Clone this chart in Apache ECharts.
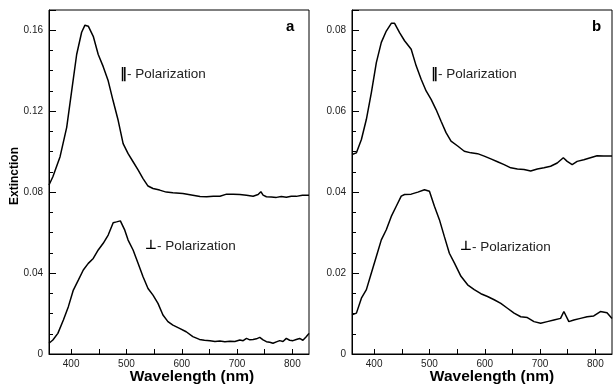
<!DOCTYPE html>
<html><head><meta charset="utf-8">
<script src="https://cdn.jsdelivr.net/npm/echarts@6/dist/echarts.min.js"></script>
<style>html,body{margin:0;padding:0;background:#fff}#c{width:613px;height:384px}</style>
</head><body><div id="c"></div>
<script>
// Panel a, parallel polarization
const wlAPar = [360,367,380,392,401,410,419,425,431,440,449,458,467,476,485,494,503,512,521,530,539,548,560,572,584,602,620,633,645,657,669,681,693,705,717,729,738,743,747,753,762,771,780,789,798,807,818,830];
const extAPar = [0.0835,0.0876,0.0975,0.112,0.130,0.148,0.159,0.1625,0.162,0.157,0.148,0.142,0.135,0.125,0.1155,0.104,0.099,0.095,0.091,0.0867,0.083,0.0818,0.081,0.080,0.0797,0.0793,0.0785,0.0778,0.0777,0.0779,0.078,0.079,0.079,0.0788,0.0785,0.078,0.0788,0.0802,0.0785,0.0777,0.0776,0.0774,0.0778,0.0775,0.078,0.0779,0.0784,0.0785];
// Panel a, perpendicular polarization
const wlAPerp = [360,367,376,386,395,404,413,422,431,440,449,458,467,476,482,489,497,503,512,521,530,539,548,557,566,575,584,596,608,620,632,641,651,660,669,678,687,696,705,711,717,723,729,735,741,747,753,759,765,771,777,783,789,795,801,807,813,819,825,830];
const extAPerp = [0.0053,0.0069,0.0102,0.0168,0.0234,0.0316,0.0365,0.0415,0.0448,0.0472,0.0514,0.0547,0.0588,0.0649,0.0653,0.0658,0.0612,0.0563,0.0514,0.0448,0.0382,0.0324,0.0291,0.025,0.0193,0.016,0.0143,0.0127,0.011,0.0086,0.0072,0.0068,0.0066,0.0062,0.0064,0.0061,0.0063,0.0062,0.0069,0.0066,0.0077,0.007,0.0072,0.0075,0.0082,0.007,0.0061,0.0058,0.0053,0.006,0.0066,0.0062,0.0077,0.0068,0.0066,0.0072,0.0077,0.0068,0.0085,0.0102];
// Panel b, parallel polarization
const wlBPar = [360,368,377,386,395,404,413,422,431,437,446,455,467,476,485,494,503,512,521,530,539,551,563,575,587,599,611,623,635,647,659,671,683,695,707,719,731,742,749,758,767,779,791,803,815,830];
const extBPar = [0.0493,0.0497,0.053,0.058,0.0646,0.072,0.077,0.0798,0.0817,0.0817,0.0794,0.0774,0.0753,0.0712,0.0679,0.065,0.0629,0.0604,0.0575,0.0547,0.0526,0.0514,0.0501,0.0497,0.0495,0.0489,0.0482,0.0475,0.0468,0.046,0.0457,0.0456,0.0452,0.0457,0.046,0.0464,0.0472,0.0485,0.0476,0.0468,0.0476,0.048,0.0485,0.049,0.0489,0.0489];
// Panel b, perpendicular polarization
const wlBPerp = [360,368,377,386,395,404,413,422,431,440,449,455,467,479,491,500,509,518,527,536,545,557,569,581,593,605,617,629,641,653,665,677,689,701,713,725,737,743,752,761,773,785,797,809,821,830];
const extBPerp = [0.0097,0.0101,0.0138,0.0159,0.020,0.0241,0.0282,0.0307,0.034,0.0365,0.039,0.0394,0.0395,0.040,0.0406,0.0402,0.0365,0.0332,0.029,0.0249,0.0225,0.0192,0.0171,0.0159,0.0149,0.0142,0.0134,0.0125,0.0113,0.0101,0.0092,0.009,0.008,0.0076,0.008,0.0084,0.0088,0.0105,0.008,0.0084,0.0088,0.0092,0.0094,0.0105,0.0102,0.0088];

const xLabels = [400,500,600,700,800];
const xTicks = [400,450,500,550,600,650,700,750,800];
const yLabelsA = [0,0.04,0.08,0.12,0.16];
const yLabelsB = [0,0.02,0.04,0.06,0.08];

const pairs = (xs, ys) => xs.map((x, i) => [x, ys[i]]);
const FONT = 'Liberation Sans, Arial, sans-serif';

function xAxisDef(gi) {
  return {
    gridIndex: gi, type: 'value', min: 360, max: 830,
    axisLine: {show: true, lineStyle: {color: '#000', width: 1}},
    axisTick: {show: true, inside: true, length: 5, customValues: xTicks, lineStyle: {color: '#000'}},
    axisLabel: {customValues: xLabels, color: '#222', fontFamily: FONT, fontSize: 10, margin: 5},
    splitLine: {show: false}
  };
}
function yAxisDef(gi, max, interval, labels) {
  return {
    gridIndex: gi, type: 'value', min: 0, max: max, interval: interval,
    axisLine: {show: true, lineStyle: {color: '#000', width: 1}},
    axisTick: {show: true, inside: true, length: 7, lineStyle: {color: '#000'}},
    minorTick: {show: true, splitNumber: 4, length: 4, lineStyle: {color: '#000'}},
    axisLabel: {customValues: labels, color: '#222', fontFamily: FONT, fontSize: 10, margin: 6,
      formatter: v => v === 0 ? '0' : v.toFixed(2)},
    splitLine: {show: false}, minorSplitLine: {show: false}
  };
}
const lineSeries = (xi, data) => ({
  type: 'line', xAxisIndex: xi, yAxisIndex: xi, data: data, symbol: 'none',
  lineStyle: {color: '#000', width: 1.5}, animation: false
});
const ann = (x, y, mark, markSize) => ({
  type: 'text', x: x, y: y,
  style: {
    text: '{m|' + mark + '}{t|- Polarization}',
    textVerticalAlign: 'middle',
    rich: {
      m: {font: 'bold ' + markSize + 'px DejaVu Sans, sans-serif', fill: '#000'},
      t: {font: '13.5px ' + FONT, fill: '#222'}
    }
  }
});

const chart = echarts.init(document.getElementById('c'), null, {renderer: 'canvas'});
chart.setOption({
  animation: false,
  grid: [
    {left: 49, top: 10, width: 260, height: 344, show: true, borderColor: '#000', borderWidth: 1, containLabel: false},
    {left: 352, top: 10, width: 260, height: 344, show: true, borderColor: '#000', borderWidth: 1, containLabel: false}
  ],
  xAxis: [xAxisDef(0), xAxisDef(1)],
  yAxis: [yAxisDef(0, 0.17, 0.04, yLabelsA), yAxisDef(1, 0.085, 0.02, yLabelsB)],
  series: [
    lineSeries(0, pairs(wlAPar, extAPar)),
    lineSeries(0, pairs(wlAPerp, extAPerp)),
    lineSeries(1, pairs(wlBPar, extBPar)),
    lineSeries(1, pairs(wlBPerp, extBPerp))
  ],
  graphic: [
    {type: 'text', x: 15, y: 176, rotation: Math.PI / 2,
      style: {text: 'Extinction', font: 'bold 12px ' + FONT, fill: '#000', textAlign: 'center', textVerticalAlign: 'middle'}},
    {type: 'text', x: 192, y: 377, style: {text: 'Wavelength (nm)', font: 'bold 15.5px ' + FONT, fill: '#000', textAlign: 'center', textVerticalAlign: 'middle'}},
    {type: 'text', x: 492, y: 377, style: {text: 'Wavelength (nm)', font: 'bold 15.5px ' + FONT, fill: '#000', textAlign: 'center', textVerticalAlign: 'middle'}},
    {type: 'text', x: 286, y: 27, style: {text: 'a', font: 'bold 15px ' + FONT, fill: '#000', textVerticalAlign: 'middle'}},
    {type: 'text', x: 592, y: 27, style: {text: 'b', font: 'bold 15px ' + FONT, fill: '#000', textVerticalAlign: 'middle'}},
    ann(120, 74, '\u2016', 14),
    ann(145, 246, '\u22A5', 13),
    ann(431, 74, '\u2016', 14),
    ann(460, 247, '\u22A5', 13)
  ]
});
</script></body></html>
